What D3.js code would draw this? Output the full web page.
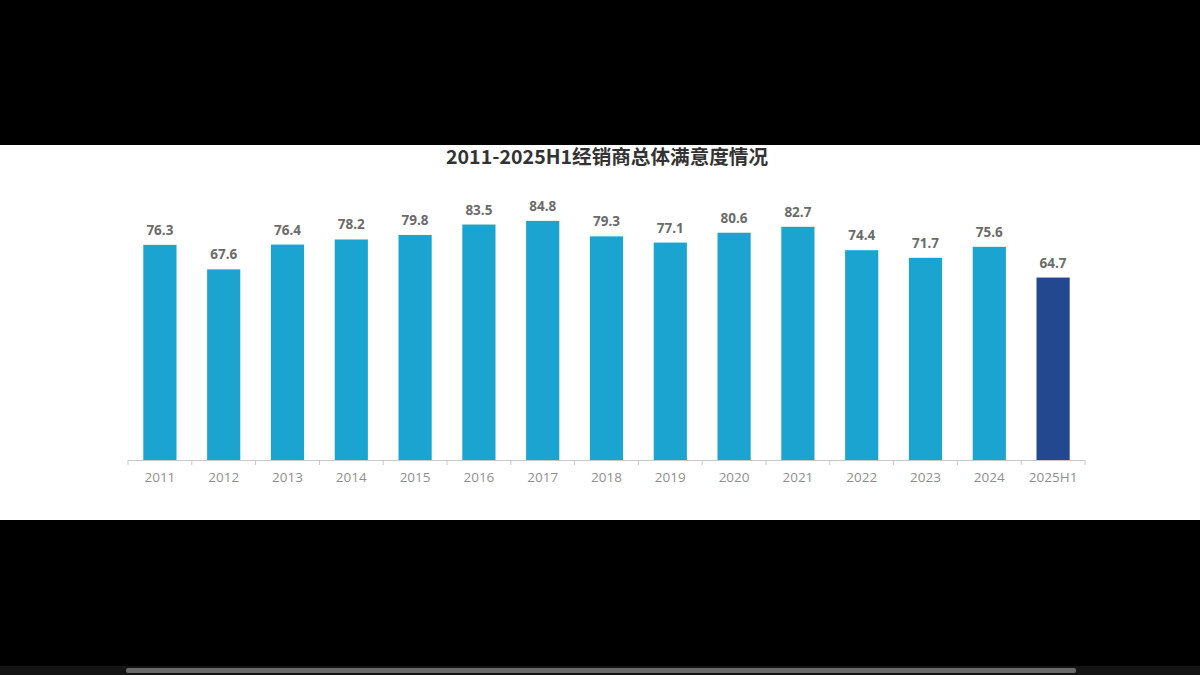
<!DOCTYPE html>
<html>
<head>
<meta charset="utf-8">
<script src="https://cdn.jsdelivr.net/npm/d3@7"></script>
<style>
  html, body { margin: 0; padding: 0; background: #000; }
  svg { display: block; }
</style>
</head>
<body>
<svg id="chart"></svg>
<script>
const width = 1200,
    height = 675

const title = "2011-2025H1经销商总体满意度情况"
const categories = ["2011", "2012", "2013", "2014", "2015", "2016", "2017", "2018", "2019", "2020", "2021", "2022", "2023", "2024", "2025H1"]
const values = [76.3, 67.6, 76.4, 78.2, 79.8, 83.5, 84.8, 79.3, 77.1, 80.6, 82.7, 74.4, 71.7, 75.6, 64.7]
const highlight = "2025H1"

const data = categories.map((c, i) => ({ cat: c, value: values[i] }))

const svg = d3.select("#chart")
    .attr("width", width)
    .attr("height", height)

// white slide area inside the black frame
svg.append("rect")
    .attr("x", 0)
    .attr("y", 145)
    .attr("width", width)
    .attr("height", 375)
    .attr("fill", "#fff")

// scrollbar at the bottom
svg.append("rect")
    .attr("x", 0).attr("y", 666)
    .attr("width", width).attr("height", 9)
    .attr("fill", "#141414")
svg.append("rect")
    .attr("x", 126).attr("y", 668)
    .attr("width", 950).attr("height", 5)
    .attr("rx", 2)
    .attr("fill", "#6a6a6a")

svg.append("text")
    .attr("x", 607)
    .attr("y", 164)
    .attr("text-anchor", "middle")
    .attr("font-family", "'Noto Sans CJK SC', 'Noto Sans', sans-serif")
    .attr("font-weight", "bold")
    .attr("font-size", 19.6)
    .attr("fill", "#333")
    .text(title)

const x = d3.scaleBand()
    .domain(categories)
    .range([128, 1085])
    .paddingInner(0.48)
    .paddingOuter(0.24)

const y = d3.scaleLinear()
    .domain([0, 100])
    .range([460, 178])

svg.selectAll("rect.bar")
    .data(data)
    .enter()
    .append("rect")
    .attr("class", "bar")
    .attr("x", d => x(d.cat))
    .attr("y", d => y(d.value))
    .attr("width", x.bandwidth())
    .attr("height", d => y(0) - y(d.value))
    .attr("fill", d => d.cat === highlight ? "#24488f" : "#1ba4cf")

svg.selectAll("text.val")
    .data(data)
    .enter()
    .append("text")
    .attr("class", "val")
    .attr("x", d => x(d.cat) + x.bandwidth() / 2)
    .attr("y", d => y(d.value) - 10)
    .attr("text-anchor", "middle")
    .attr("font-family", "'Open Sans', 'Noto Sans', sans-serif")
    .attr("font-weight", "bold")
    .attr("font-size", 13.5)
    .attr("fill", "#6b6b6b")
    .text(d => d.value.toFixed(1))

// x axis with ticks between categories
const axisG = svg.append("g")
    .attr("transform", `translate(0, ${y(0)})`)

axisG.append("line")
    .attr("x1", 128).attr("x2", 1085)
    .attr("y1", 0.5).attr("y2", 0.5)
    .attr("stroke", "#c8c8c8")

const step = x.step()
const bounds = d3.range(categories.length + 1).map(i => 128 + i * step)
axisG.selectAll("line.tick")
    .data(bounds)
    .enter()
    .append("line")
    .attr("class", "tick")
    .attr("x1", d => d).attr("x2", d => d)
    .attr("y1", 0).attr("y2", 5)
    .attr("stroke", "#c8c8c8")

axisG.selectAll("text.lab")
    .data(categories)
    .enter()
    .append("text")
    .attr("class", "lab")
    .attr("x", d => x(d) + x.bandwidth() / 2)
    .attr("y", 22)
    .attr("text-anchor", "middle")
    .attr("font-family", "'Open Sans', 'Noto Sans', sans-serif")
    .attr("font-size", 13.5)
    .attr("fill", "#8f8f8f")
    .text(d => d)
</script>
</body>
</html>
